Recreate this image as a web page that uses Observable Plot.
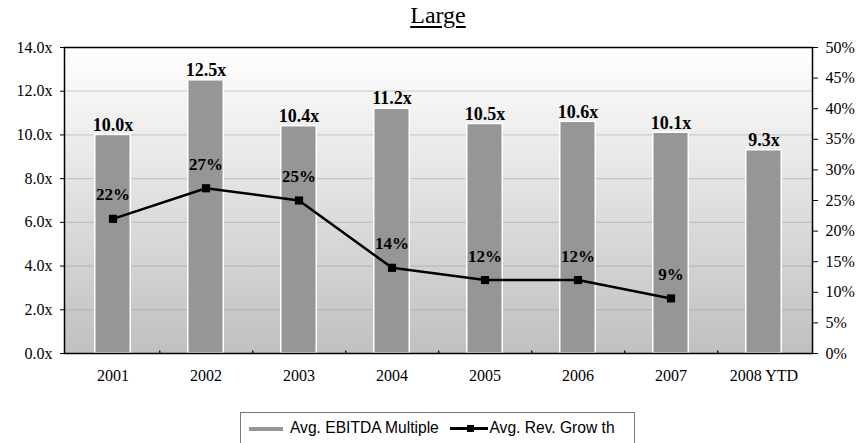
<!DOCTYPE html>
<html>
<head>
<meta charset="utf-8">
<script src="https://cdn.jsdelivr.net/npm/d3@7"></script>
<script src="https://cdn.jsdelivr.net/npm/@observablehq/plot@0.6"></script>
<style>
  html, body { margin: 0; padding: 0; background: #fff; }
  #wrap { position: relative; width: 857px; height: 443px; overflow: hidden; }
  #title { position: absolute; left: 0; top: 0; width: 876px; height: 30px; line-height: 30px; text-align: center;
           font-family: "Liberation Serif", serif; font-size: 24px; color: #000; text-decoration: underline; text-underline-offset: 3px; }
  #chart { position: absolute; left: 0; top: 30px; }
  #legend { position: absolute; left: 240px; top: 412px; width: 393px; height: 30px; border: 1px solid #7a7a7a;
            font-family: "Liberation Sans", Arial, sans-serif; font-size: 15.6px; color: #000; box-sizing: content-box; }
  .sw { position: absolute; }
  .lt { position: absolute; top: 6px; white-space: pre; }
</style>
</head>
<body>
<div id="wrap">
  <div id="title">Large</div>
  <div id="chart"></div>
  <div id="legend">
    <div class="sw" style="left:7.5px; top:13.5px; width:34px; height:4.5px; background:#969696;"></div>
    <div class="lt" style="left:49px;">Avg. EBITDA Multiple</div>
    <div class="sw" style="left:209px; top:14px; width:38px; height:3px; background:#000;"></div>
    <div class="sw" style="left:226px; top:12px; width:7px; height:7px; background:#000;"></div>
    <div class="lt" style="left:248.5px;">Avg. Rev. Grow th</div>
  </div>
</div>
<script>
const years = ["2001", "2002", "2003", "2004", "2005", "2006", "2007", "2008 YTD"];
const multiples = [10.0, 12.5, 10.4, 11.2, 10.5, 10.6, 10.1, 9.3];
const growthYears = ["2001", "2002", "2003", "2004", "2005", "2006", "2007"];
const growth = [22, 27, 25, 14, 12, 12, 9];
const leftTicks = [0, 2, 4, 6, 8, 10, 12, 14];
const rightTicks = [0, 5, 10, 15, 20, 25, 30, 35, 40, 45, 50];

const Y_MAX = 14, P_MAX = 50;
const toY = p => p * Y_MAX / P_MAX;

const bars = years.map((year, i) => ({year, value: multiples[i]}));
const line = growthYears.map((year, i) => ({year, pct: growth[i], y: toY(growth[i])}));

const width = 857, height = 383;
const marginLeft = 64, marginRight = 45, marginTop = 17, marginBottom = 60;
const step = (width - marginLeft - marginRight) / years.length;

const defs = () => {
  const d = d3.create("svg:defs");
  const g = d.append("linearGradient").attr("id", "bgGrad").attr("x1", 0).attr("y1", 0).attr("x2", 0).attr("y2", 1);
  g.append("stop").attr("offset", "0%").attr("stop-color", "#ffffff");
  g.append("stop").attr("offset", "100%").attr("stop-color", "#c0c0c0");
  return d.node();
};

const chart = Plot.plot({
  width, height, marginLeft, marginRight, marginTop, marginBottom,
  style: {fontFamily: "'Liberation Serif', 'Times New Roman', serif", fontSize: "16px", color: "#000", background: "transparent"},
  x: {domain: years, padding: 0, label: null},
  y: {domain: [0, Y_MAX], label: null},
  marks: [
    defs,
    Plot.frame({fill: "url(#bgGrad)", stroke: "none"}),
    Plot.ruleY(leftTicks.slice(1, -1), {stroke: "#8a8a8a", strokeOpacity: 0.35, strokeWidth: 1.2}),
    Plot.barY(bars, {x: "year", y: "value", fill: "#969696", stroke: "#ffffff", strokeWidth: 1.5,
                     insetLeft: (step - 36) / 2, insetRight: (step - 36) / 2}),
    Plot.ruleX(years.slice(0, -1), {dx: step / 2, y1: 0, y2: 0.12, stroke: "#000", strokeWidth: 1.2}),
    Plot.line(line, {x: "year", y: "y", stroke: "#000", strokeWidth: 2.5}),
    Plot.dot(line, {x: "year", y: "y", symbol: "square", r: 4.6, fill: "#000", stroke: "none"}),
    Plot.text(bars, {x: "year", y: "value", text: d => d.value.toFixed(1) + "x", dy: -10,
                     fontSize: 18, fontWeight: "bold", fill: "#000"}),
    Plot.text(line, {x: "year", y: "y", text: d => d.pct + "%", dy: -24,
                     fontSize: 17, fontWeight: "bold", fill: "#000"}),
    Plot.frame({stroke: "#000", strokeWidth: 1.5}),
    Plot.axisY(leftTicks, {anchor: "left", tickSize: 4, tickPadding: 8, fontSize: 16,
                           tickFormat: d => d.toFixed(1) + "x", label: null}),
    Plot.axisY(rightTicks.map(toY), {anchor: "right", tickSize: 5, tickPadding: 8, fontSize: 16,
                                     tickFormat: d => Math.round(d * P_MAX / Y_MAX) + "%", label: null}),
    Plot.axisX({anchor: "bottom", tickSize: 0, tickPadding: 16, fontSize: 16, label: null})
  ]
});
document.getElementById("chart").appendChild(chart);
</script>
</body>
</html>
